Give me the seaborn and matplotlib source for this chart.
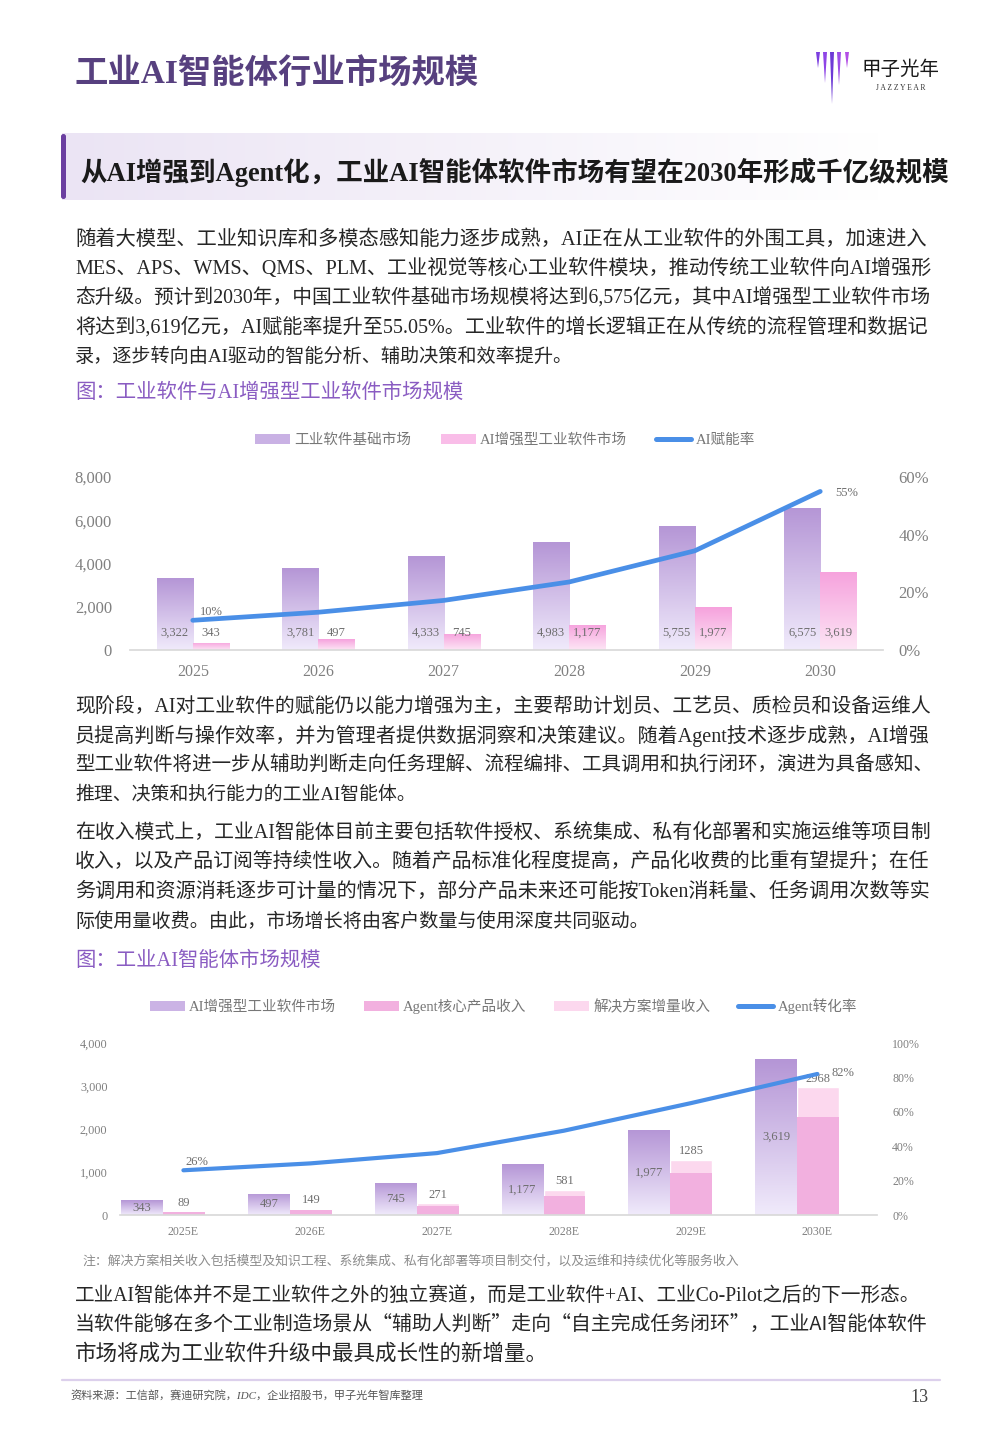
import numpy as np
import pandas as pd
import matplotlib
matplotlib.use("Agg")
import matplotlib.pyplot as plt
import seaborn as sns
from matplotlib.patches import Patch, Polygon, FancyBboxPatch
from matplotlib.lines import Line2D
from matplotlib.colors import to_rgba

# ---- data -------------------------------------------------------------
years = ['2025', '2026', '2027', '2028', '2029', '2030']
base_market = [3322, 3781, 4333, 4983, 5755, 6575]
ai_market = [343, 497, 745, 1177, 1977, 3619]
ai_rate = [10.3, 13.1, 17.2, 23.6, 34.4, 55.0]

years_e = ['2025E', '2026E', '2027E', '2028E', '2029E', '2030E']
ai_market_e = [343, 497, 745, 1177, 1977, 3619]
agent_total = [89, 149, 271, 581, 1285, 2968]
agent_core = [70, 115, 200, 445, 985, 2285]
agent_rate = [26, 30, 36, 49, 65, 82]

s1_names = ['工业软件基础市场', 'AI增强型工业软件市场', 'AI赋能率']
s2_names = ['AI增强型工业软件市场', 'Agent核心产品收入', '解决方案增量收入', 'Agent转化率']

title = '工业AI智能体行业市场规模'
banner = '从AI增强到Agent化，工业AI智能体软件市场有望在2030年形成千亿级规模'
para1 = ['随着大模型、工业知识库和多模态感知能力逐步成熟，AI正在从工业软件的外围工具，加速进入',
         'MES、APS、WMS、QMS、PLM、工业视觉等核心工业软件模块，推动传统工业软件向AI增强形',
         '态升级。预计到2030年，中国工业软件基础市场规模将达到6,575亿元，其中AI增强型工业软件市场',
         '将达到3,619亿元，AI赋能率提升至55.05%。工业软件的增长逻辑正在从传统的流程管理和数据记',
         '录，逐步转向由AI驱动的智能分析、辅助决策和效率提升。']
cap1 = '图：工业软件与AI增强型工业软件市场规模'
para2 = ['现阶段，AI对工业软件的赋能仍以能力增强为主，主要帮助计划员、工艺员、质检员和设备运维人',
         '员提高判断与操作效率，并为管理者提供数据洞察和决策建议。随着Agent技术逐步成熟，AI增强',
         '型工业软件将进一步从辅助判断走向任务理解、流程编排、工具调用和执行闭环，演进为具备感知、',
         '推理、决策和执行能力的工业AI智能体。']
para3 = ['在收入模式上，工业AI智能体目前主要包括软件授权、系统集成、私有化部署和实施运维等项目制',
         '收入，以及产品订阅等持续性收入。随着产品标准化程度提高，产品化收费的比重有望提升；在任',
         '务调用和资源消耗逐步可计量的情况下，部分产品未来还可能按Token消耗量、任务调用次数等实',
         '际使用量收费。由此，市场增长将由客户数量与使用深度共同驱动。']
cap2 = '图：工业AI智能体市场规模'
note = '注：解决方案相关收入包括模型及知识工程、系统集成、私有化部署等项目制交付，以及运维和持续优化等服务收入'
para4 = ['工业AI智能体并不是工业软件之外的独立赛道，而是工业软件+AI、工业Co-Pilot之后的下一形态。',
         '当软件能够在多个工业制造场景从“辅助人判断”走向“自主完成任务闭环”，工业AI智能体软件',
         '市场将成为工业软件升级中最具成长性的新增量。']
source = '资料来源：工信部，赛迪研究院，IDC，企业招股书，甲子光年智库整理'
page_no = '13'

# ---- style ------------------------------------------------------------
sns.set_theme(style='white')
SERIF = ['Liberation Serif', 'Noto Sans CJK SC', 'DejaVu Sans']
CJK_FIRST = ['Noto Sans CJK SC', 'Liberation Serif', 'DejaVu Sans']
plt.rcParams['font.family'] = SERIF

W, H = 1000, 1444
fig = plt.figure(figsize=(10, 14.44), dpi=100)
fig.patch.set_facecolor('white')
renderer = fig.canvas.get_renderer()

PURPLE_TOP, PURPLE_BOT = '#b596d6', '#f0eafb'
PINK_TOP, PINK_BOT = '#f6a2dd', '#fde5f5'
CORE, SOLUTION = '#f2b0df', '#fcd8ee'
BLUE = '#4a8fe7'
TICK = '#808080'


def put(x, y, s, size, color='#262626', weight='normal', style='normal', ha='left',
        right=None, family=None):
    t = fig.text(x / W, 1 - y / H, s, fontsize=size, color=color, fontweight=weight,
                 fontstyle=style, ha=ha, va='center', family=family or SERIF)
    if right is not None:
        # scale the font so the line spans the same width as in the page
        w = t.get_window_extent(renderer).width
        t.set_fontsize(size * (right - x) / w)
    return t


def gradient_bar(ax, patch, top, bottom):
    x0, y0 = patch.get_x(), patch.get_y()
    w, h = patch.get_width(), patch.get_height()
    t = np.linspace(0, 1, 64)[:, None]
    img = (np.array(to_rgba(top)) * (1 - t) + np.array(to_rgba(bottom)) * t)[:, None, :]
    im = ax.imshow(img, extent=(x0, x0 + w, y0, y0 + h), origin='upper', aspect='auto',
                   zorder=patch.get_zorder(), interpolation='bilinear')
    im.set_clip_path(patch)
    patch.set_facecolor('none')
    patch.set_edgecolor('none')


def axes_px(x0, x1, y_top, y_bot):
    return fig.add_axes([x0 / W, 1 - y_bot / H, (x1 - x0) / W, (y_bot - y_top) / H])


# ---- page decoration --------------------------------------------------
bg = fig.add_axes([0, 0, 1, 1], zorder=-10)
bg.axis('off')

t = np.linspace(0, 1, 256)[None, :, None]
c0, c1 = np.array(to_rgba('#ebe4f4')), np.array(to_rgba('#ffffff'))
bg.imshow(c0 * (1 - t) + c1 * t, extent=(62, 880, 200, 133), aspect='auto',
          interpolation='bilinear', zorder=0)
bg.add_patch(FancyBboxPatch((61, 134), 5, 65, boxstyle='round,pad=0,rounding_size=2.5',
                            fc='#6b3fa0', ec='none', zorder=2))
for x, yb, col in [(818, 68, '#7c3fe0'), (825, 83, '#8f45e6'), (832, 104, '#6d3ad6'),
                   (839, 85, '#9d4de8'), (847, 68, '#b34ee6')]:
    bg.add_patch(Polygon([(x - 2, 52), (x + 2, 52), (x, yb)], closed=True, fc=col, ec='none'))
bg.plot([62, 940], [1380, 1380], color='#dcd0ec', lw=1.6)
bg.set_xlim(0, W)
bg.set_ylim(H, 0)

put(75, 75, title, 22, color='#57407f', weight='bold', right=478)
put(862, 69, '甲子光年', 14, color='#1a1a1a', family=CJK_FIRST)
put(901, 88, 'J A Z Z Y E A R', 5.5, color='#333333', ha='center')
put(80, 172, banner, 19, color='#1a1a1a', weight='bold', right=950)

BODY = 15.4
LH = 29.2
ends1 = [928, 928, 928, 928, 573]
ends2 = [928, 928, 933, 415]
ends3 = [928, 928, 928, 648]
ends4 = [918, 928, 548]
for i, line in enumerate(para1):
    put(75, 240 + i * LH, line, BODY, right=ends1[i])
put(75, 393, cap1, BODY, color='#8a5cc2', right=464)
for i, line in enumerate(para2):
    put(75, 707 + i * LH, line, BODY, right=ends2[i])
for i, line in enumerate(para3):
    put(75, 834 + i * LH, line, BODY, right=ends3[i])
put(75, 961, cap2, BODY, color='#8a5cc2', right=320)
put(82, 1261, note, 9.6, color='#8c8c8c', style='italic', right=742)
for i, line in enumerate(para4):
    put(75, 1296 + i * LH, line, BODY, right=ends4[i],
        family=CJK_FIRST if '“' in line else None)
put(70, 1396, source, 8, color='#555555', style='italic', right=424)
put(929, 1398, page_no, 13, color='#444444', ha='right')

# ---- chart 1 ----------------------------------------------------------
ax1 = axes_px(130, 883, 477, 650)
df1 = pd.DataFrame({'year': years * 2,
                    'value': base_market + ai_market,
                    'series': [s1_names[0]] * 6 + [s1_names[1]] * 6})
sns.barplot(data=df1, x='year', y='value', hue='series', ax=ax1, width=0.574,
            palette=[PURPLE_TOP, PINK_TOP], saturation=1, errorbar=None, legend=False)
bars1 = list(ax1.patches)
for k, p in enumerate(bars1):
    if k < 6:
        gradient_bar(ax1, p, PURPLE_TOP, PURPLE_BOT)
    else:
        gradient_bar(ax1, p, PINK_TOP, PINK_BOT)
    v = (base_market + ai_market)[k]
    ax1.text(p.get_x() + p.get_width() / 2, 790, f'{v:,}', ha='center', va='center',
             fontsize=9, color='#6e6e6e', zorder=5)
ax1.set_ylim(0, 8000)
ax1.set_yticks([0, 2000, 4000, 6000, 8000])
ax1.set_yticklabels([f'{v:,}' for v in [0, 2000, 4000, 6000, 8000]])
ax1.set_xlabel('')
ax1.set_ylabel('')
ax1.tick_params(axis='y', length=0, labelsize=12, labelcolor=TICK, pad=13)
ax1.tick_params(axis='x', length=0, labelsize=11.5, labelcolor=TICK, pad=10)
for s in ['top', 'left', 'right']:
    ax1.spines[s].set_visible(False)
ax1.spines['bottom'].set_color('#d9d9d9')

ax1b = ax1.twinx()
sns.lineplot(x=np.arange(len(years)), y=ai_rate, ax=ax1b, color=BLUE, lw=3.4,
             solid_capstyle='round')
ax1b.set_ylim(0, 60)
ax1b.set_yticks([0, 20, 40, 60])
ax1b.set_yticklabels([f'{v}%' for v in [0, 20, 40, 60]])
ax1b.tick_params(axis='y', length=0, labelsize=12, labelcolor=TICK, pad=11)
for s in ax1b.spines.values():
    s.set_visible(False)
ax1b.text(0.15, ai_rate[0] + 2.9, f'{round(ai_rate[0])}%', fontsize=9, color='#6e6e6e',
          ha='center', va='center')
ax1b.text(5.21, ai_rate[-1] - 0.4, f'{round(ai_rate[-1])}%', fontsize=9, color='#6e6e6e',
          ha='center', va='center')
ax1.set_xlim(-0.5, 5.5)

h1 = [Patch(fc='#c9b1e4', ec='none'), Patch(fc='#f9bde8', ec='none'),
      Line2D([], [], color=BLUE, lw=3.6)]
fig.legend(h1, s1_names, loc='center', bbox_to_anchor=(0.505, 1 - 440 / H), ncol=3,
           frameon=False, fontsize=10.5, labelcolor='#777777', handlelength=2.4,
           handleheight=0.65, handletextpad=0.3, columnspacing=2.0)

# ---- chart 2 ----------------------------------------------------------
ax2 = axes_px(120, 877, 1043, 1215)
df2 = pd.DataFrame({'year': years_e * 2,
                    'value': ai_market_e + agent_total,
                    'series': [s2_names[0]] * 6 + ['合计'] * 6})
sns.barplot(data=df2, x='year', y='value', hue='series', ax=ax2, width=0.66,
            palette=[PURPLE_TOP, SOLUTION], saturation=1, errorbar=None, legend=False)
bars2 = list(ax2.patches)
for k, p in enumerate(bars2[:6]):
    gradient_bar(ax2, p, PURPLE_TOP, PURPLE_BOT)
    ax2.text(p.get_x() + p.get_width() / 2, ai_market_e[k] / 2, f'{ai_market_e[k]:,}',
             ha='center', va='center', fontsize=9, color='#6e6e6e', zorder=5)
tot = bars2[6:]
ax2.bar([p.get_x() + p.get_width() / 2 for p in tot], agent_core,
        width=tot[0].get_width(), color=CORE, edgecolor='none', zorder=tot[0].get_zorder())
for k, p in enumerate(tot):
    ax2.text(p.get_x() + p.get_width() / 2, agent_total[k] + 200, f'{agent_total[k]}',
             ha='center', va='center', fontsize=9, color='#6e6e6e', zorder=5)
ax2.set_ylim(0, 4000)
ax2.set_yticks([0, 1000, 2000, 3000, 4000])
ax2.set_yticklabels([f'{v:,}' for v in [0, 1000, 2000, 3000, 4000]])
ax2.set_xticks(np.arange(len(years_e)) + 0.16)
ax2.set_xticklabels(years_e)
ax2.set_xlabel('')
ax2.set_ylabel('')
ax2.tick_params(axis='y', length=0, labelsize=8.8, labelcolor=TICK, pad=9)
ax2.tick_params(axis='x', length=0, labelsize=8.6, labelcolor=TICK, pad=8)
for s in ['top', 'left', 'right']:
    ax2.spines[s].set_visible(False)
ax2.spines['bottom'].set_color('#d9d9d9')

ax2b = ax2.twinx()
sns.lineplot(x=np.arange(len(years_e)) + 0.16, y=agent_rate, ax=ax2b, color=BLUE, lw=3.0,
             solid_capstyle='round')
ax2b.set_ylim(0, 100)
ax2b.set_yticks([0, 20, 40, 60, 80, 100])
ax2b.set_yticklabels([f'{v}%' for v in [0, 20, 40, 60, 80, 100]])
ax2b.tick_params(axis='y', length=0, labelsize=8.6, labelcolor=TICK, pad=11)
for s in ax2b.spines.values():
    s.set_visible(False)
ax2b.text(0.27, agent_rate[0] + 4.8, f'{agent_rate[0]}%', fontsize=9, color='#6e6e6e',
          ha='center', va='center')
ax2b.text(5.36, agent_rate[-1] + 0.5, f'{agent_rate[-1]}%', fontsize=9, color='#6e6e6e',
          ha='center', va='center')
ax2.set_xlim(-0.34, 5.63)

h2 = [Patch(fc='#cbb3e5', ec='none'), Patch(fc=CORE, ec='none'), Patch(fc=SOLUTION, ec='none'),
      Line2D([], [], color=BLUE, lw=3.6)]
fig.legend(h2, s2_names, loc='center', bbox_to_anchor=(0.5035, 1 - 1006 / H), ncol=4,
           frameon=False, fontsize=10.5, labelcolor='#777777', handlelength=2.4,
           handleheight=0.65, handletextpad=0.3, columnspacing=1.9)

fig.savefig('out.png', dpi=100)
